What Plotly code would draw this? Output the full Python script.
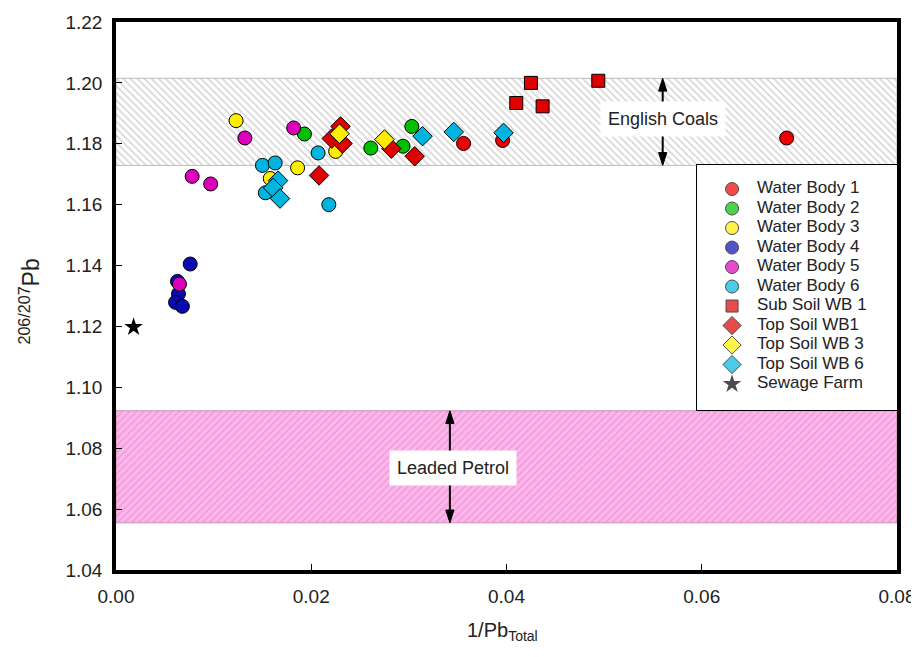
import plotly.graph_objects as go

# ---- data (x = 1/Pb_total, y = 206/207Pb) ----
wb1_x = [0.0356, 0.0396, 0.0687]
wb1_y = [1.1801, 1.1811, 1.1819]
wb2_x = [0.0193, 0.0261, 0.0294, 0.0303]
wb2_y = [1.1832, 1.1786, 1.1792, 1.1857]
wb3_x = [0.0123, 0.0225, 0.0186, 0.0158]
wb3_y = [1.1876, 1.1775, 1.1721, 1.1686]
wb4_x = [0.0076, 0.0063, 0.0064, 0.0061, 0.0068]
wb4_y = [1.1405, 1.1348, 1.1307, 1.1279, 1.1266]
wb5_x = [0.0132, 0.0182, 0.0078, 0.0097, 0.0065]
wb5_y = [1.1819, 1.1852, 1.1693, 1.1668, 1.1339]
wb6_x = [0.0207, 0.0150, 0.0163, 0.0153, 0.0218]
wb6_y = [1.1770, 1.1729, 1.1737, 1.1639, 1.1600]
sub1_x = [0.0425, 0.0410, 0.0437, 0.0494]
sub1_y = [1.2000, 1.1934, 1.1923, 1.2007]
top1_x = [0.0230, 0.0221, 0.0232, 0.0208, 0.0282, 0.0306]
top1_y = [1.1857, 1.1817, 1.1801, 1.1696, 1.1784, 1.1759]
top3_x = [0.0229, 0.0275]
top3_y = [1.1833, 1.1814]
top6_x = [0.0166, 0.0161, 0.0168, 0.0314, 0.0346, 0.0397]
top6_y = [1.1679, 1.1655, 1.1620, 1.1825, 1.1839, 1.1836]
sew_x = [0.0018]
sew_y = [1.1198]

series_names = ["Water Body 1", "Water Body 2", "Water Body 3", "Water Body 4",
                "Water Body 5", "Water Body 6", "Sub Soil WB 1", "Top Soil WB1",
                "Top Soil WB 3", "Top Soil WB 6", "Sewage Farm"]

coal_band = [1.1729, 1.2015]
petrol_band = [1.0555, 1.0923]
band_labels = ["English Coals", "Leaded Petrol"]
band_label_x = [0.0560, 0.0345]
band_label_y = [1.1883, 1.0736]
band_arrow_x = [0.0560, 0.0342]
x_range = [0.0, 0.08]
y_range = [1.04, 1.22]

FONT = "Arial, Liberation Sans, sans-serif"
TXT = "#222222"

fig = go.Figure()

# bands
fig.add_trace(go.Scatter(
    x=[x_range[0], x_range[1], x_range[1], x_range[0], x_range[0]],
    y=[coal_band[0], coal_band[0], coal_band[1], coal_band[1], coal_band[0]],
    fill="toself", mode="lines", line=dict(color="#bbbbbb", width=1),
    fillcolor="white",
    fillpattern=dict(shape="\\", fgcolor="#a8a8a8", bgcolor="white", size=5, solidity=0.3),
    showlegend=False, hoverinfo="skip"))
fig.add_trace(go.Scatter(
    x=[x_range[0], x_range[1], x_range[1], x_range[0], x_range[0]],
    y=[petrol_band[0], petrol_band[0], petrol_band[1], petrol_band[1], petrol_band[0]],
    fill="toself", mode="lines", line=dict(color="#c890b8", width=1),
    fillcolor="#ffb3ec",
    fillpattern=dict(shape="/", fgcolor="#c77db5", bgcolor="#ffb4ec", size=5, solidity=0.25),
    showlegend=False, hoverinfo="skip"))

series_x = [wb1_x, wb2_x, wb3_x, wb4_x, wb5_x, wb6_x, sub1_x, top1_x, top3_x, top6_x, sew_x]
series_y = [wb1_y, wb2_y, wb3_y, wb4_y, wb5_y, wb6_y, sub1_y, top1_y, top3_y, top6_y, sew_y]
symbols = ["circle"] * 6 + ["square", "diamond", "diamond", "diamond", "star"]
colors = ["#ee0000", "#00c000", "#ffee00", "#0a0ab0", "#dd00bb", "#00b4e0",
          "#e00000", "#e00000", "#ffee00", "#00b4e0", "black"]
sizes = [14] * 6 + [13, 15, 15, 15, 14]

for name, xs, ys, sym, col, sz in zip(series_names, series_x, series_y, symbols, colors, sizes):
    lw = 0 if sym == "star" else 1
    fig.add_trace(go.Scatter(x=xs, y=ys, mode="markers", name=name,
                             marker=dict(symbol=sym, color=col, size=sz,
                                         line=dict(color="black", width=lw))))

# legend drawn in its own small axes (x2/y2), one row per series
idx = list(range(len(series_names)))
leg_sizes = [13] * 6 + [12, 14, 14, 14, 14]
fig.add_trace(go.Scatter(
    x=[0.175] * len(idx), y=idx, xaxis="x2", yaxis="y2", mode="markers",
    marker=dict(symbol=symbols, color=colors, size=leg_sizes,
                line=dict(color="black", width=[1] * 10 + [0])),
    showlegend=False, hoverinfo="skip"))
fig.add_trace(go.Scatter(
    x=[0.30] * len(idx), y=idx, xaxis="x2", yaxis="y2", mode="text",
    text=series_names, textposition="middle right",
    textfont=dict(family=FONT, size=17, color=TXT),
    showlegend=False, hoverinfo="skip"))
fig.add_shape(type="rect", xref="x2 domain", yref="y2 domain", x0=0, x1=1, y0=0, y1=1,
              fillcolor="white", line=dict(width=0), layer="below")

# double-headed arrows across each band (line + triangular heads)
head_h = 0.0042   # y-units
head_w = 0.00042  # x-units (half width)
for ax_x, band in zip(band_arrow_x, [coal_band, petrol_band]):
    lo, hi = band
    fig.add_shape(type="line", xref="x", yref="y", x0=ax_x, x1=ax_x, y0=lo + head_h * 0.5,
                  y1=hi - head_h * 0.5, line=dict(color="black", width=2), layer="above")
    fig.add_shape(type="path", xref="x", yref="y", layer="above",
                  path=f"M {ax_x},{hi} L {ax_x - head_w},{hi - head_h} L {ax_x + head_w},{hi - head_h} Z",
                  fillcolor="black", line=dict(color="black", width=1))
    fig.add_shape(type="path", xref="x", yref="y", layer="above",
                  path=f"M {ax_x},{lo} L {ax_x - head_w},{lo + head_h} L {ax_x + head_w},{lo + head_h} Z",
                  fillcolor="black", line=dict(color="black", width=1))

for lab, lx, ly in zip(band_labels, band_label_x, band_label_y):
    fig.add_annotation(x=lx, y=ly, xref="x", yref="y", text=lab, showarrow=False,
                       bgcolor="white", borderpad=7, font=dict(family=FONT, size=18, color=TXT))

# axis titles
fig.add_annotation(x=0.495, y=-0.113, xref="paper", yref="paper", text="1/Pb<sub>Total</sub>",
                   xanchor="center", yanchor="middle",
                   showarrow=False, font=dict(family=FONT, size=20, color=TXT))
fig.add_annotation(x=-0.110, y=0.49, xref="paper", yref="paper", text="<sup>206/207</sup>Pb",
                   xanchor="center", yanchor="middle",
                   textangle=-90, showarrow=False, font=dict(family=FONT, size=23, color=TXT))

axis_common = dict(showline=True, linecolor="black", linewidth=3.5, mirror=True,
                   ticks="inside", ticklen=6, tickwidth=1, tickcolor="black",
                   showgrid=False, zeroline=False, dtick=0.02, tickformat=".2f",
                   automargin=False, tickfont=dict(family=FONT, size=19, color=TXT))
small_axis = dict(showline=True, mirror=True, linecolor="black", linewidth=1,
                  showticklabels=False, ticks="", showgrid=False, zeroline=False,
                  fixedrange=True, automargin=False)
fig.update_layout(
    xaxis=dict(range=x_range, tick0=0, ticklabelstandoff=6, domain=[0, 1], **axis_common),
    yaxis=dict(range=y_range, tick0=1.04, ticklabelstandoff=6, domain=[0, 1], **axis_common),
    xaxis2=dict(domain=[0.744, 1.0], range=[0, 1], anchor="y2", **small_axis),
    yaxis2=dict(domain=[0.292, 0.739], range=[11.33, -1.23], anchor="x2", **small_axis),
    width=911, height=641,
    margin=dict(l=108, r=22, t=14, b=79),
    plot_bgcolor="white", paper_bgcolor="white",
    font=dict(family=FONT, color=TXT),
    showlegend=False,
)

fig.write_html("out.html")
